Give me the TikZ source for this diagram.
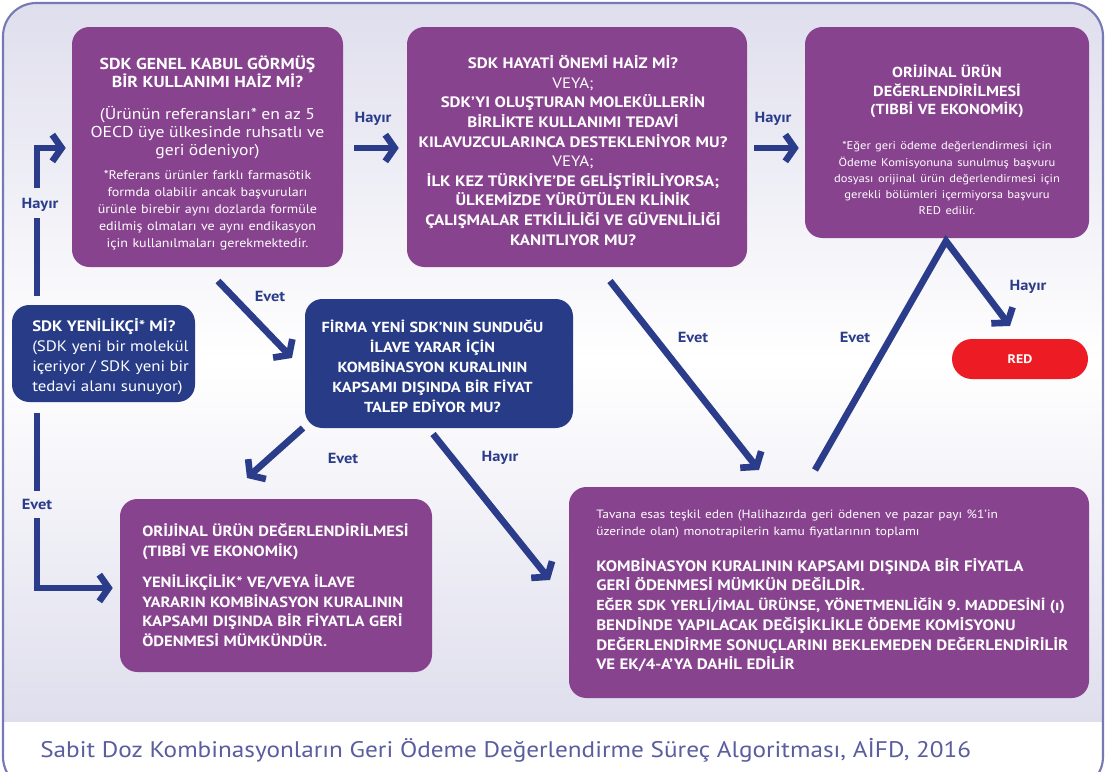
\documentclass[tikz,border=0pt]{standalone}
\usepackage{fontspec}
\setmainfont[FakeStretch=1.12]{PT Sans}
\usetikzlibrary{arrows.meta,calc}
\definecolor{pur}{HTML}{88438F}
\definecolor{nav}{HTML}{283B87}
\definecolor{arc}{HTML}{2A3C8A}
\definecolor{redc}{HTML}{ED1C24}
\definecolor{lav}{HTML}{DFDEED}
\definecolor{frm}{HTML}{7679B3}
\definecolor{capc}{HTML}{5A5D9E}
\tikzset{
 box/.style={rounded corners=13pt, inner sep=0pt},
 pbox/.style={box, fill=pur},
 bbox/.style={box, fill=nav},
 txt/.style={text=white, inner sep=0pt, align=center},
 ltxt/.style={text=white, inner sep=0pt, align=left},
 lab/.style={text=arc, font=\bfseries\fontsize{11}{13}\selectfont, inner sep=0pt},
 ln/.style={draw=arc, line width=5pt},
 arr/.style={ln, line join=miter, -{Straight Barb[length=7pt,width=20pt,line width=5pt]}},
}
\begin{document}
\begin{tikzpicture}[x=0.75pt,y=-0.75pt]
\useasboundingbox (0,0) rectangle (1106,771);
\begin{scope}
\clip (0,0) rectangle (1106,771);
\fill[white] (0,0) rectangle (1106,771);
\begin{scope}
\clip[rounded corners=25pt] (3,3) rectangle (1103,790);
\shade[top color=lav, bottom color=lav, middle color=white] (3,3) rectangle (1103,721);
\end{scope}
\draw[frm, line width=1.6pt, rounded corners=25pt] (3,3) rectangle (1103,790);
\end{scope}

% boxes
\node[pbox, minimum width=203.25pt, minimum height=180pt] (b1) at (207.5,147) {};
\node[pbox, minimum width=255pt, minimum height=180pt] (b2) at (577,147) {};
\node[pbox, minimum width=213pt, minimum height=158.25pt] (b3) at (947,132.5) {};
\node[box, fill=redc, rounded corners=15pt, minimum width=102pt, minimum height=30pt, text=white, font=\bfseries\fontsize{9.3}{11}\selectfont] (red) at (1020,359) {RED};
\node[bbox, minimum width=137.25pt, minimum height=72.75pt] (sy) at (103.5,353.5) {};
\node[bbox, minimum width=201pt, minimum height=96.75pt] (fi) at (439,363.5) {};
\node[pbox, minimum width=234pt, minimum height=129.75pt] (bl) at (276,585.5) {};
\node[pbox, minimum width=390pt, minimum height=158.25pt] (br) at (829,592.5) {};

% texts
\node[txt, text width=200pt] (t1) at (207.5,153) {{\bfseries\fontsize{11.9}{13.5}\selectfont SDK GENEL KABUL GÖRMÜŞ\\BİR KULLANIMI HAİZ Mİ?\par}\vspace{11pt}{\fontsize{11.8}{13.5}\selectfont (Ürünün referansları* en az 5\\OECD üye ülkesinde ruhsatlı ve\\geri ödeniyor)\par}\vspace{5pt}{\fontsize{9.4}{12.75}\selectfont *Referans ürünler farklı farmasötik\\formda olabilir ancak başvuruları\\ürünle birebir aynı dozlarda formüle\\edilmiş olmaları ve aynı endikasyon\\için kullanılmaları gerekmektedir.\par}};
\node[txt, text width=250pt] (t2) at (573,150.5) {\bfseries\fontsize{11.3}{14.7}\selectfont SDK HAYATİ ÖNEMİ HAİZ Mİ?\\{\mdseries VEYA;}\\SDK'YI OLUŞTURAN MOLEKÜLLERİN\\BİRLİKTE KULLANIMI TEDAVİ\\KILAVUZCULARINCA DESTEKLENİYOR MU?\\{\mdseries VEYA;}\\İLK KEZ TÜRKİYE'DE GELİŞTİRİLİYORSA;\\ÜLKEMİZDE YÜRÜTÜLEN KLİNİK\\ÇALIŞMALAR ETKİLİLİĞİ VE GÜVENLİLİĞİ\\KANITLIYOR MU?\par};
\node[txt, text width=210pt] (t3) at (947,140) {{\bfseries\fontsize{10.9}{14}\selectfont ORİJİNAL ÜRÜN\\DEĞERLENDİRİLMESİ\\(TIBBİ VE EKONOMİK)\par}\vspace{14pt}{\fontsize{8.4}{12.2}\selectfont *Eğer geri ödeme değerlendirmesi için\\Ödeme Komisyonuna sunulmuş başvuru\\dosyası orijinal ürün değerlendirmesi için\\gerekli bölümleri içermiyorsa başvuru\\RED edilir.\par}};
\node[ltxt, anchor=west, font=\fontsize{11.3}{15}\selectfont] (ty) at (32,356.5) {\textbf{SDK YENİLİKÇİ* Mİ?}\\(SDK yeni bir molekül\\içeriyor / SDK yeni bir\\tedavi alanı sunuyor)};
\node[txt, text width=200pt] (tf) at (432.5,366) {\bfseries\fontsize{10.9}{15}\selectfont FİRMA YENİ SDK'NIN SUNDUĞU\\İLAVE YARAR İÇİN\\KOMBİNASYON KURALININ\\KAPSAMI DIŞINDA BİR FİYAT\\TALEP EDİYOR MU?\par};
\node[ltxt, anchor=west, text width=230pt] (tl) at (142,585) {{\bfseries\fontsize{11.1}{14.6}\selectfont ORİJİNAL ÜRÜN DEĞERLENDİRİLMESİ\\(TIBBİ VE EKONOMİK)\par}\vspace{9pt}{\bfseries\fontsize{11.1}{14.6}\selectfont YENİLİKÇİLİK* VE/VEYA İLAVE\\YARARIN KOMBİNASYON KURALININ\\KAPSAMI DIŞINDA BİR FİYATLA GERİ\\ÖDENMESİ MÜMKÜNDÜR.\par}};
\node[ltxt, anchor=west, text width=380pt] (tr) at (596,591) {{\fontsize{9}{12.75}\selectfont Tavana esas teşkil eden (Halihazırda geri ödenen ve pazar payı \%1'in\\üzerinde olan) monotrapilerin kamu fiyatlarının toplamı\par}\vspace{12pt}{\bfseries\fontsize{11.3}{14.8}\selectfont KOMBİNASYON KURALININ KAPSAMI DIŞINDA BİR FİYATLA\\GERİ ÖDENMESİ MÜMKÜN DEĞİLDİR.\\{\fontsize{10.85}{14.8}\selectfont EĞER SDK YERLİ/İMAL ÜRÜNSE, YÖNETMENLİĞİN 9.\ MADDESİNİ (ı)}\\BENDİNDE YAPILACAK DEĞİŞİKLİKLE ÖDEME KOMİSYONU\\DEĞERLENDİRME SONUÇLARINI BEKLEMEDEN DEĞERLENDİRİLİR\\VE EK/4-A'YA DAHİL EDİLİR\par}};

% connector coordinates
\coordinate (hA) at (37,296);
\coordinate (hB) at (37,218);
\coordinate (hC) at (37,188);
\coordinate (eA) at (37,413);
\coordinate (eB) at (37,491);
\coordinate (eC) at (37,518);
\coordinate (d1s) at (218,281);
\coordinate (d1e) at (292,358);
\coordinate (d2s) at (303,428);
\coordinate (d2e) at (247,478);
\coordinate (d3s) at (433,434);
\coordinate (d3e) at (550,580);
\coordinate (d4s) at (610,281);
\coordinate (d4e) at (759,470);
\coordinate (d5s) at (815,470);
\coordinate (apex) at (946,241);
\coordinate (d5e) at (1010,326);

% connectors
\draw[ln] (hA) -- (hB);
\draw[arr] (hC) |- ($(b1.west)+(-6,1)$);
\draw[ln] (eA) -- (eB);
\draw[arr] (eC) |- ($(bl.west)+(-7,2.5)$);
\draw[arr] ($(b1.east)+(11,1)$) -- ($(b2.west)+(-8,1)$);
\draw[arr] ($(b2.east)+(7,1)$) -- ($(b2.east -| b3.west)+(-6,1)$);
\draw[arr] (d1s) -- (d1e);
\draw[arr] (d2s) -- (d2e);
\draw[arr] (d3s) -- (d3e);
\draw[arr] (d4s) -- (d4e);
\draw[arr] (d5s) -- (apex) -- (d5e);

% labels
\node[lab] (lH1) at (40,205) {Hayır};
\node[lab] (lE1) at (37,504) {Evet};
\node[lab] (lH2) at (373,119) {Hayır};
\node[lab] (lH3) at (773,119) {Hayır};
\node[lab] (lE2) at (270,296) {Evet};
\node[lab] (lE3) at (343,458) {Evet};
\node[lab] (lH4) at (500,458) {Hayır};
\node[lab] (lE4) at (693,337) {Evet};
\node[lab] (lE5) at (855,337) {Evet};
\node[lab] (lH5) at (1028,287) {Hayır};

% caption
\node[anchor=base west, inner sep=0pt, text=capc, font=\fontsize{16.9}{19}\selectfont] (cap) at (40,757) {Sabit Doz Kombinasyonların Geri Ödeme Değerlendirme Süreç Algoritması, AİFD, 2016};
\end{tikzpicture}
\end{document}
